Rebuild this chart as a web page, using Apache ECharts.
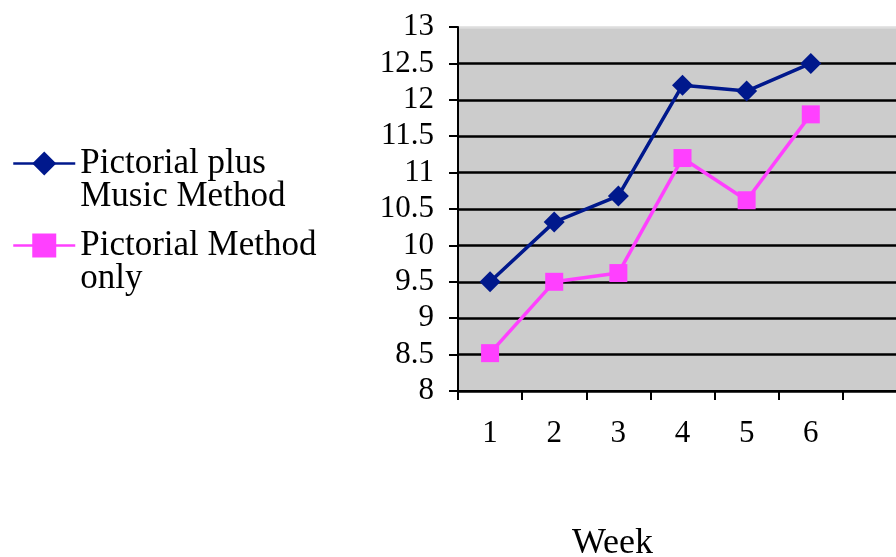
<!DOCTYPE html>
<html>
<head>
<meta charset="utf-8">
<script src="https://cdn.jsdelivr.net/npm/echarts@6/dist/echarts.min.js"></script>
<style>html,body{margin:0;padding:0;background:#fff}#c{width:896px;height:557px}</style>
</head>
<body>
<div id="c"></div>
<script>
var categories = ['1', '2', '3', '4', '5', '6', ''];
var musicMethod = [9.5, 10.32, 10.68, 12.2, 12.12, 12.5];
var pictorialOnly = [8.52, 9.5, 9.62, 11.2, 10.62, 11.8];
var seriesNames = ['Pictorial plus Music Method', 'Pictorial Method only'];
var legendLines = [['Pictorial plus', 'Music Method'], ['Pictorial Method', 'only']];
var FONT = 'Liberation Serif';

var chart = echarts.init(document.getElementById('c'));
var splitColors = [];
for (var i = 0; i < 10; i++) splitColors.push('#000');
splitColors.push('#dddddd');

chart.setOption({
  animation: false,
  title: {
    text: 'Week', left: 572, top: 526, padding: 0,
    textStyle: { fontFamily: FONT, fontSize: 36, fontWeight: 'normal', color: '#000' }
  },
  legend: {
    orient: 'vertical', left: 12, top: 113, padding: 0,
    itemWidth: 62, itemHeight: 30, itemGap: -19,
    lineStyle: { width: 2.5 },
    textStyle: {
      fontFamily: FONT, fontSize: 35, lineHeight: 33, color: '#000',
      rich: {
        e: { fontFamily: FONT, fontSize: 35, lineHeight: 33 },
        t: { fontFamily: FONT, fontSize: 35, lineHeight: 33, color: '#000' }
      }
    },
    formatter: function (name) {
      var l = legendLines[seriesNames.indexOf(name)];
      return '{e| }\n{t|' + l[0] + '}\n{t|' + l[1] + '}';
    },
    data: seriesNames
  },
  grid: {
    left: 458, top: 27, height: 364, width: 449,
    outerBoundsMode: 'none', containLabel: false,
    show: true, backgroundColor: '#cccccc', borderWidth: 0
  },
  xAxis: {
    type: 'category', data: categories, boundaryGap: true,
    axisLine: { lineStyle: { color: '#000', width: 2 } },
    axisTick: { show: true, length: 9, lineStyle: { color: '#000', width: 2 } },
    axisLabel: { fontFamily: FONT, fontSize: 31, color: '#000', margin: 27 },
    splitLine: { show: false }
  },
  yAxis: {
    type: 'value', min: 8, max: 13, interval: 0.5,
    axisLine: { show: true, lineStyle: { color: '#000', width: 2 } },
    axisTick: { show: true, length: 9, lineStyle: { color: '#000', width: 2 } },
    axisLabel: { fontFamily: FONT, fontSize: 31, color: '#000', margin: 24 },
    splitLine: { show: true, lineStyle: { color: splitColors, width: 2.5 } }
  },
  series: [
    {
      name: seriesNames[0], type: 'line', data: musicMethod,
      symbol: 'diamond', symbolSize: 21,
      itemStyle: { color: '#00188c' },
      lineStyle: { color: '#00188c', width: 3.5 }
    },
    {
      name: seriesNames[1], type: 'line', data: pictorialOnly,
      symbol: 'rect', symbolSize: 18,
      itemStyle: { color: '#ff40ff' },
      lineStyle: { color: '#ff40ff', width: 3.5 }
    }
  ]
});
</script>
</body>
</html>
